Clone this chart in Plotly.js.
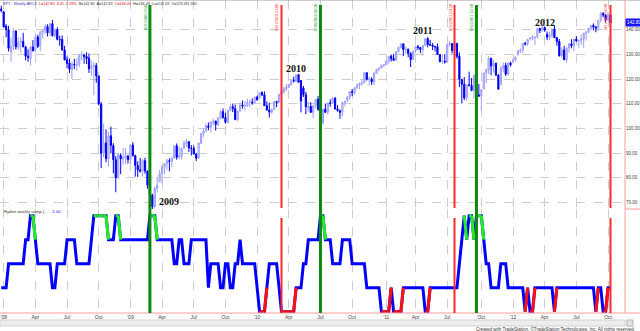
<!DOCTYPE html>
<html><head><meta charset="utf-8">
<script src="https://cdn.plot.ly/plotly-3.0.1.min.js"></script>
<style>html,body{margin:0;padding:0;background:#fff;}#chart{width:640px;height:331px;}</style>
</head><body><div id="chart"></div>
<script>
// ---- data (SPY weekly bars, week ending Fridays from 2007-12-28) ----
const firstWeek = '2007-12-28';
const opens = [
148.4,147.3,141.5,140.0,131.0,133.2,139.5,133.0,134.9,135.3,
133.0,129.3,128.2,133.0,131.6,137.1,133.3,139.0,139.8,141.3,
138.8,142.5,137.6,140.0,136.0,136.1,131.8,127.8,126.5,124.0,
126.0,125.7,126.0,129.6,129.8,129.2,128.5,124.3,125.2,125.5,
121.3,109.9,90.0,94.1,87.7,97.0,93.0,87.3,80.0,89.0,
87.6,88.0,88.8,87.3,93.2,88.9,84.9,83.2,82.6,86.9,
82.7,77.0,72.9,68.3,75.7,78.5,81.6,84.2,85.6,86.9,
86.6,88.0,92.9,88.3,88.7,92.0,93.9,94.6,92.0,91.9,
89.6,88.0,94.0,97.9,99.0,101.0,100.4,102.6,102.9,101.6,
104.3,106.8,104.4,102.5,107.3,108.8,108.0,103.6,107.0,109.5,
109.1,109.2,110.6,110.6,110.4,112.7,112.4,114.5,113.6,109.2,
107.4,106.6,107.7,110.9,110.6,113.9,114.9,116.0,116.7,117.8,
119.4,119.1,121.8,119.4,116.4,113.6,108.3,108.9,106.5,109.3,
111.8,107.7,102.3,107.8,106.5,110.3,110.2,112.2,107.9,107.2,
106.5,110.5,111.3,112.6,114.9,114.6,116.5,117.6,118.3,118.5,
122.6,119.9,120.0,118.9,122.4,124.0,124.5,125.7,125.8,127.2,
129.3,128.4,127.6,131.1,132.9,134.3,132.0,132.1,130.4,128.0,
131.4,133.2,132.8,132.0,133.7,136.4,134.0,133.8,133.3,133.1,
130.0,127.1,127.2,126.9,134.0,134.4,131.6,134.5,129.3,119.9,
117.9,112.4,117.7,117.4,115.4,121.6,113.6,113.1,116.0,122.5,
123.8,128.5,125.3,126.4,121.6,117.9,124.4,125.5,122.0,126.5,
127.0,127.8,129.9,131.5,131.6,134.5,134.3,136.6,136.6,137.0,
137.1,140.5,140.4,140.9,138.2,137.0,137.9,140.3,136.9,135.3,
129.5,131.8,127.8,132.6,134.3,133.5,136.2,135.5,135.7,136.3,
138.6,139.1,140.6,141.8,141.1,140.7,143.8,146.6,146.0,144.1,
146.1];
const highs = [
149.8,147.7,142.3,141.6,136.8,140.6,139.8,136.9,137.0,138.8,
133.5,132.1,133.5,135.8,138.5,138.0,139.5,140.0,142.2,142.2,
142.6,144.0,140.5,141.0,137.6,137.7,133.5,129.2,128.3,127.2,
128.2,128.4,130.0,131.3,130.3,130.9,130.4,127.5,126.9,126.5,
121.3,110.7,101.9,99.6,98.5,100.7,94.0,88.8,90.0,89.9,
92.0,92.0,89.2,93.4,94.4,89.3,86.6,88.0,87.5,88.1,
82.9,79.8,73.5,76.2,80.3,83.2,85.0,85.8,87.6,87.8,
88.5,93.0,93.9,92.6,92.0,95.1,95.6,94.7,93.2,93.0,
90.0,94.2,98.2,99.9,101.9,102.4,102.7,104.0,103.2,104.5,
107.4,108.1,106.3,107.6,110.1,110.1,109.7,107.1,110.5,111.3,
111.2,112.0,111.6,112.1,112.8,113.3,114.7,115.1,115.0,110.9,
110.4,108.0,111.0,111.2,113.9,115.0,116.9,118.0,118.1,119.4,
121.0,121.8,122.1,119.6,117.2,114.8,110.9,110.6,109.2,112.0,
113.1,108.2,107.9,109.9,110.4,111.8,112.7,112.8,109.4,107.6,
110.5,111.0,113.1,114.9,116.0,116.7,118.1,118.6,119.6,122.8,
122.7,120.9,120.7,122.6,124.0,124.6,125.8,126.0,127.8,129.3,
130.0,130.2,131.2,133.0,134.4,134.4,133.2,132.4,130.9,131.4,
133.3,133.9,133.0,133.7,136.4,137.0,135.9,134.6,133.4,134.5,
130.1,130.0,130.2,134.1,135.6,134.4,134.7,134.5,130.8,120.0,
120.8,117.8,123.0,120.4,121.8,122.2,118.0,116.0,122.5,124.2,
129.2,128.5,127.7,126.7,122.0,125.3,126.8,126.7,126.7,127.1,
128.4,129.2,131.6,132.5,134.6,135.1,136.2,136.9,137.9,137.2,
140.5,140.8,142.0,141.3,139.3,139.2,140.6,141.6,137.0,136.3,
132.9,133.5,132.7,134.5,136.2,136.3,137.4,135.9,138.0,138.8,
139.4,140.6,141.9,142.6,141.6,143.9,147.2,147.2,146.5,147.1,
146.5];
const lows = [
147.1,140.9,137.0,131.2,127.0,131.8,132.0,131.9,130.7,132.9,
127.6,127.0,125.6,131.2,130.8,132.6,131.3,136.5,138.3,137.3,
137.5,137.3,136.9,135.7,133.5,131.6,127.6,124.4,122.5,120.0,
124.0,123.4,124.9,127.6,126.2,126.1,122.5,121.3,113.4,118.5,
109.3,83.9,88.2,86.2,84.5,90.0,81.8,74.1,79.5,81.4,
85.0,85.5,85.7,85.7,88.5,80.4,80.3,82.1,80.5,81.6,
75.5,73.1,66.6,67.6,74.0,78.0,77.7,81.4,83.2,82.6,
84.2,87.7,87.3,87.6,87.3,91.6,92.4,90.4,89.0,89.4,
86.7,87.6,93.6,96.4,98.4,99.2,98.3,101.1,99.1,101.0,
103.6,103.9,101.9,102.0,106.9,106.6,103.3,102.9,106.8,108.0,
107.3,108.7,108.6,109.6,110.2,111.4,111.8,113.1,109.1,107.4,
104.4,105.8,107.5,108.6,110.4,113.2,114.2,115.0,116.4,117.3,
118.6,118.8,118.6,106.5,112.7,105.7,106.8,106.3,104.2,108.2,
107.2,101.1,101.6,106.3,105.6,108.8,110.0,107.6,106.8,103.9,
104.9,108.9,110.6,111.6,113.1,113.6,116.0,115.9,117.3,118.4,
119.4,117.4,117.6,117.4,122.1,123.2,124.3,124.9,125.8,126.2,
127.1,127.4,127.6,130.8,132.4,129.4,130.3,128.9,124.9,127.7,
130.6,131.8,130.5,129.5,133.3,132.9,133.5,131.8,131.2,129.9,
126.8,126.0,126.3,126.9,133.3,130.4,130.1,128.3,116.8,110.1,
111.5,111.2,117.0,115.1,112.2,111.4,112.8,107.4,115.9,118.4,
122.0,121.5,122.6,121.3,115.8,117.5,122.8,121.3,121.4,125.1,
126.4,127.0,129.5,130.6,130.6,133.6,133.5,135.6,135.8,133.8,
136.5,138.7,139.1,139.2,135.8,135.8,136.6,136.5,133.6,129.1,
128.6,127.8,126.6,130.7,132.5,131.3,135.0,132.7,133.9,132.7,
135.6,138.6,139.7,139.8,139.0,139.5,143.0,145.1,143.0,143.6,
142.6];
const closes = [
147.8,141.2,140.1,132.5,133.1,139.5,133.1,134.9,135.3,133.1,
129.3,128.8,133.0,131.5,137.0,133.3,139.0,139.8,141.4,138.8,
142.5,137.6,140.0,136.1,136.0,131.8,127.8,126.3,124.0,126.1,
125.8,126.0,129.6,129.8,129.2,128.3,124.2,125.2,125.5,121.3,
109.9,89.9,94.1,87.7,96.9,93.1,87.3,80.0,89.6,87.6,
88.0,88.8,87.3,93.2,89.0,85.0,83.2,82.6,86.9,82.7,
77.0,73.5,68.3,75.7,76.9,81.6,84.3,85.7,87.0,86.6,
87.8,92.9,88.3,88.7,91.9,94.0,94.6,92.1,91.9,89.6,
87.9,94.0,97.9,98.8,101.1,100.4,102.6,102.9,101.6,104.3,
106.8,104.4,102.5,107.2,108.8,108.0,103.6,106.9,109.4,109.1,
109.2,110.6,110.6,110.3,112.7,111.5,114.5,113.6,109.2,107.4,
106.6,107.6,110.9,110.5,113.9,115.0,116.0,116.7,117.8,119.4,
119.2,121.7,118.7,111.1,113.6,108.8,108.9,106.5,109.2,111.8,
107.7,102.3,107.8,106.5,110.3,110.2,112.2,107.9,107.2,106.5,
110.5,111.0,112.6,114.9,114.6,116.5,117.6,118.3,118.3,122.6,
119.9,120.0,118.9,122.5,124.0,124.4,125.7,125.8,127.2,129.3,
128.3,127.6,131.1,132.9,134.3,132.0,132.1,130.4,127.9,131.4,
133.2,132.8,132.0,133.7,136.4,134.0,133.8,133.3,133.1,130.0,
127.1,127.2,126.9,134.0,134.4,131.6,134.5,129.2,119.9,117.9,
112.4,117.7,117.4,115.4,121.6,113.6,113.1,115.6,122.5,123.8,
128.5,125.3,126.4,121.6,115.9,124.4,125.5,122.0,126.5,125.8,
127.8,128.9,131.5,131.6,134.5,134.3,136.1,136.6,137.0,137.1,
140.4,139.7,140.9,139.8,137.0,137.9,140.3,136.9,135.3,129.5,
131.8,127.8,132.6,134.3,133.5,136.2,135.5,135.7,136.3,138.6,
139.1,140.6,141.8,141.1,140.7,143.8,146.6,146.0,144.1,146.1,
142.8];
// Ryden weekly composite, levels -2..2
const ryden = [
-1,-1,-1,0,0,0,0,0,0,0,
1,1,2,2,1,0,0,0,0,0,
0,-1,-1,0,0,0,0,1,1,1,
1,0,0,0,0,0,0,1,2,2,
2,2,2,2,1,1,1,2,2,1,
1,1,1,1,1,1,1,1,1,1,
1,2,2,2,1,1,1,1,1,1,
1,0,0,1,1,0,0,0,1,1,
1,1,1,1,1,-1,0,0,0,0,
-1,-1,0,0,-1,-1,0,0,1,0,
0,0,0,0,0,-1,-2,-2,-2,-1,
0,0,0,0,-1,-2,-2,-2,-2,-2,
-2,-1,-1,-1,0,0,1,1,1,1,
1,2,2,1,1,1,0,0,0,0,
1,1,1,1,0,0,0,0,0,0,
-1,-1,-1,-1,-1,-1,-2,-2,-2,-2,
-1,-2,-2,-2,-2,-1,-1,-1,-1,-1,
-1,-1,-1,-1,-2,-2,-1,-1,-1,-1,
-1,-1,-1,-1,-1,-1,-1,-1,0,1,
2,1,2,2,1,2,2,2,1,0,
0,-1,-1,-1,-1,0,0,0,-1,-1,
-1,-1,-1,-1,-1,-2,-1,-2,-2,-1,
-1,-1,-1,-1,-1,-1,-1,-2,-1,-1,
-1,-1,-1,-1,-1,-1,-1,-1,-1,-1,
-1,-1,-1,-1,-2,-1,-1,-2,-2,-1,
-1];
const tickDates = ['2008-01-04','2008-04-04','2008-07-04','2008-10-03',
  '2009-01-02','2009-04-03','2009-07-03','2009-10-02',
  '2010-01-01','2010-04-02','2010-07-02','2010-10-01',
  '2011-01-07','2011-04-01','2011-07-01','2011-10-07',
  '2012-01-06','2012-04-06','2012-07-06','2012-10-05'];
const tickLabels = ["'08",'Apr','Jul','Oct',"'09",'Apr','Jul','Oct',"'10",'Apr','Jul','Oct',"'11",'Apr','Jul','Oct',"'12",'Apr','Jul','Oct'];
const priceTicks = [70,80,90,100,110,120,130,140];
const buyDates = ['2009-02-27','2010-07-02','2011-09-23'];
const sellDates = ['2010-03-12','2011-07-22','2012-10-12'];
const yearLabels = ['2009','2010','2011','2012'];

// ---- build ----
const WEEK = 7*864e5;
const t0 = Date.parse(firstWeek);
const dates = closes.map((_, i) => new Date(t0 + i*WEEK).toISOString().slice(0,10));
const iso = ms => new Date(ms).toISOString().replace('T',' ').replace('Z','');

function segs(level){
  const xs=[], ys=[];
  for (let i=0;i<ryden.length-1;i++){
    if (ryden[i]===level){ xs.push(dates[i],dates[i+1],null); ys.push(ryden[i],ryden[i+1],null); }
  }
  return {xs, ys};
}
const g = segs(2), r = segs(-2);

const traces = [
  {type:'candlestick', x:dates, open:opens, high:highs, low:lows, close:closes,
   xaxis:'x', yaxis:'y', whiskerwidth:0, hoverinfo:'skip',
   increasing:{line:{color:'#9c9cff', width:1}, fillcolor:'#dcdcff'},
   decreasing:{line:{color:'#0000f0', width:1}, fillcolor:'#0000ff'}},
  {type:'scatter', mode:'lines', x:dates, y:ryden, xaxis:'x', yaxis:'y2',
   line:{color:'#0000ff', width:3}, hoverinfo:'skip'},
  {type:'scatter', mode:'lines', x:g.xs, y:g.ys, xaxis:'x', yaxis:'y2',
   line:{color:'#22ee22', width:3}, hoverinfo:'skip', connectgaps:false},
  {type:'scatter', mode:'lines', x:r.xs, y:r.ys, xaxis:'x', yaxis:'y2',
   line:{color:'#ff1010', width:3}, hoverinfo:'skip', connectgaps:false}
];

const H = 313, W = 625;
const py = p => 1 - p/H;
const shapes = [
  {type:'line', xref:'paper', yref:'paper', x0:0, x1:640/W, y0:1, y1:1, line:{color:'#a0a0a0', width:1}},
  {type:'line', xref:'paper', yref:'paper', x0:1, x1:1, y0:0, y1:1, line:{color:'#ff9c9c', width:1}},
  {type:'line', xref:'paper', yref:'paper', x0:0, x1:640/W, y0:0, y1:0, line:{color:'#ff9c9c', width:1}},
  {type:'line', xref:'paper', yref:'paper', x0:1, x1:640/W, y0:py(209), y1:py(209), line:{color:'#ff9c9c', width:1}},
  {type:'rect', xref:'paper', yref:'paper', x0:0, x1:1, y0:py(326), y1:py(320), fillcolor:'#ededed', line:{color:'#d0d0d0', width:1}},
  {type:'rect', xref:'paper', yref:'paper', x0:627/W, x1:633/W, y0:py(326), y1:py(320), fillcolor:'#e4e4e4', line:{color:'#b0b0b0', width:1}}
];
buyDates.forEach(d => {
  shapes.push({type:'line', xref:'x', yref:'paper', x0:d, x1:d, y0:0, y1:py(5), layer:'above', line:{color:'#0d8a0d', width:3}});
});
sellDates.forEach(d => {
  shapes.push({type:'line', xref:'x', yref:'paper', x0:d, x1:d, y0:py(208), y1:py(5), layer:'above', line:{color:'#ff2a2a', width:2}});
  shapes.push({type:'line', xref:'x', yref:'paper', x0:d, x1:d, y0:0, y1:py(218), layer:'above', line:{color:'#ff2a2a', width:2}});
});

const fmtDate = d => d.slice(5,7)+'/'+d.slice(8,10)+'/'+d.slice(0,4);
const annotations = [];
[[buyDates,'#2a9a2a'],[sellDates,'#ff4040']].forEach(([arr,col]) => arr.forEach(d => {
  const i = dates.indexOf(d);
  annotations.push({xref:'x', yref:'paper', x:d, y:py(17), xshift:-4, xanchor:'center', yanchor:'middle',
    textangle:-90, showarrow:false,
    text: fmtDate(d)+' '+closes[i].toFixed(2), font:{size:3.2, color:col, family:'Liberation Sans, Arial'}});
}));
const yearPos = [[169,201.5],[296,68.3],[422,30.7],[544.5,22.7]];
yearLabels.forEach((t,k) => annotations.push({xref:'paper', yref:'paper', x:yearPos[k][0]/W, y:py(yearPos[k][1]),
  xanchor:'center', yanchor:'middle', showarrow:false, text:'<b>'+t+'</b>',
  font:{family:'Liberation Serif, Times New Roman, serif', size:10, color:'#111'}}));
const last = closes[closes.length-1];
annotations.push({xref:'paper', yref:'y', x:1, y:last, xanchor:'left', yanchor:'middle', showarrow:false,
  text:last.toFixed(2), bgcolor:'#1414ff', borderpad:1, font:{size:4.5, color:'#fff', family:'Liberation Sans, Arial'}});
annotations.push({xref:'paper', yref:'paper', x:1/W, y:py(4), xanchor:'left', yanchor:'middle', showarrow:false,
  text:'<span style="color:#3030b0">SPY - Weekly&nbsp;ARCX</span>&nbsp;&nbsp;<span style="color:#e00000">L='+last.toFixed(2)+'&nbsp;-3.35&nbsp;-2.29%</span>&nbsp;&nbsp;B=142.80&nbsp;&nbsp;A=142.83&nbsp;&nbsp;<span style="color:#e00000">O=146.05</span>&nbsp;&nbsp;Hi=146.49&nbsp;&nbsp;Lo=142.63&nbsp;&nbsp;V=129,181,900',
  font:{size:3.7, color:'#333', family:'Liberation Sans, Arial'}});
annotations.push({xref:'paper', yref:'paper', x:2/W, y:py(211.7), xanchor:'left', yanchor:'middle', showarrow:false,
  text:'Ryden weekly comp (...&nbsp;&nbsp;&nbsp;<span style="color:#2020ff">'+ryden[ryden.length-1].toFixed(2)+'</span>',
  font:{size:4.2, color:'#333', family:'Liberation Sans, Arial'}});
annotations.push({xref:'paper', yref:'paper', x:637/W, y:py(328.5), xanchor:'right', yanchor:'middle', showarrow:false,
  text:'Created with TradeStation. ©TradeStation Technologies, Inc. All rights reserved.',
  font:{size:4.5, color:'#333', family:'Liberation Sans, Arial'}});

const layout = {
  width:640, height:331, margin:{l:0, r:15, t:0, b:18, pad:0},
  paper_bgcolor:'#fff', plot_bgcolor:'#fff', showlegend:false, hovermode:false,
  font:{family:'Liberation Sans, Arial, sans-serif', size:5, color:'#444'},
  xaxis:{type:'date', anchor:'y2', range:[iso(t0-0.513*WEEK), iso(t0+255.96*WEEK)],
    tickmode:'array', tickvals:tickDates, ticktext:tickLabels, ticks:'',
    showgrid:true, gridcolor:'#cdcdcd', griddash:'dash', gridwidth:1,
    zeroline:false, showline:false, rangeslider:{visible:false}, fixedrange:true,
    tickfont:{size:5, color:'#444'}},
  yaxis:{domain:[py(209),1], anchor:'x', side:'right', range:[67.28,152.09],
    tickmode:'array', tickvals:priceTicks, ticktext:priceTicks.map(v=>v.toFixed(2)), ticks:'',
    showgrid:true, gridcolor:'#cdcdcd', griddash:'dash', gridwidth:1, zeroline:false, showline:false,
    tickfont:{size:4.5, color:'#444'}},
  yaxis2:{domain:[0,py(209)], anchor:'x', range:[-2.054,2.279], showgrid:false, zeroline:false,
    showticklabels:false, ticks:'', showline:false},
  shapes, annotations
};
Plotly.newPlot('chart', traces, layout, {staticPlot:true, displayModeBar:false});
</script>
</body></html>
